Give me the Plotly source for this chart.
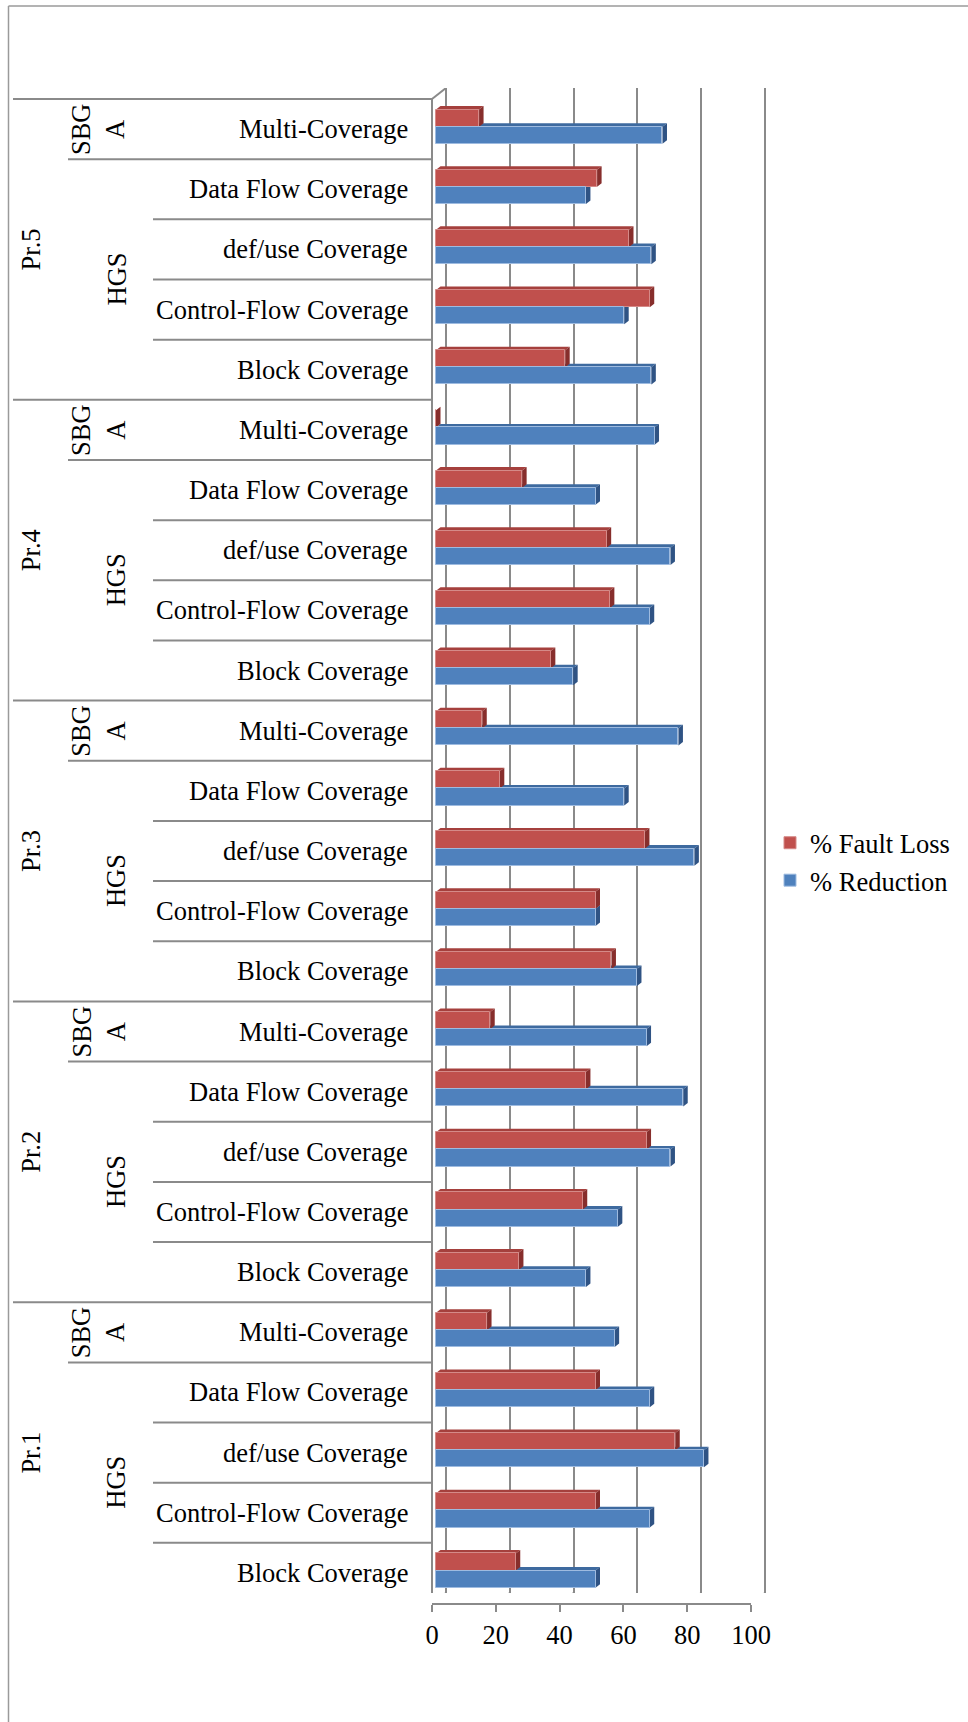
import plotly.graph_objects as go

# ---- data -------------------------------------------------------------
programs = ["Pr.1", "Pr.2", "Pr.3", "Pr.4", "Pr.5"]
techniques = ["Block Coverage", "Control-Flow Coverage", "def/use Coverage",
              "Data Flow Coverage", "Multi-Coverage"]
strategies = ["HGS", "HGS", "HGS", "HGS", "SBGA"]

# values per program, in the order of `techniques`
reduction_pr1 = [50, 67, 84, 67, 56]
reduction_pr2 = [47, 57, 73.5, 77.5, 66]
reduction_pr3 = [63, 50, 81, 59, 76]
reduction_pr4 = [43, 67, 73.5, 50, 68.5]
reduction_pr5 = [67.5, 59, 67.5, 47, 71]

fault_loss_pr1 = [25, 50, 75, 50, 16]
fault_loss_pr2 = [26, 46, 66, 47, 17]
fault_loss_pr3 = [55, 50, 65.5, 20, 14.5]
fault_loss_pr4 = [36, 54.5, 53.5, 27, 0]
fault_loss_pr5 = [40.5, 67, 60.5, 50.5, 13.5]

x_ticks = [0, 20, 40, 60, 80, 100]

reduction = reduction_pr1 + reduction_pr2 + reduction_pr3 + reduction_pr4 + reduction_pr5
fault_loss = fault_loss_pr1 + fault_loss_pr2 + fault_loss_pr3 + fault_loss_pr4 + fault_loss_pr5

# ---- layout constants (pixels) -----------------------------------------
W, H = 968, 1722
N = len(programs) * len(techniques)
X0 = 436.0          # bar zero
PXU = 3.19          # px per value unit
ROW = 60.16         # row height
ROW_TOP_C = 129.1   # centre of the top row
Y_TOP, Y_BOT = 88.0, 1593.0   # back wall extent
FLOOR_Y = 1604.0
FRONT_DX, BACK_DX = -4.0, 10.0
DEPTH_DX, DEPTH_DY = 4.5, 3.5
GRID = "#8a8a8a"
FONT = "Liberation Serif, Times New Roman, serif"

RED, RED_TOP, RED_SIDE, RED_EDGE = "#C0504D", "#A5403D", "#872E2C", "#D58A88"
BLUE, BLUE_TOP, BLUE_SIDE, BLUE_EDGE = "#4F81BD", "#3E6A9F", "#2F5384", "#9EBBE0"


def xv(px):
    return (px - X0) / PXU


def yv(py):
    return (N - 1) - (py - ROW_TOP_C) / ROW


def px_(px):
    return px / W


def py_(py):
    return 1 - py / H


ys = list(range(N))
BAR_W = 0.285
RED_OFF = 0.04
BLUE_OFF = RED_OFF - BAR_W

fig = go.Figure()

fig.add_trace(go.Bar(
    orientation="h", y=ys, x=fault_loss, width=BAR_W, offset=RED_OFF,
    name="% Fault Loss", legendgroup="a",
    marker=dict(color=RED, line=dict(color=RED_EDGE, width=1)),
))
fig.add_trace(go.Bar(
    orientation="h", y=ys, x=reduction, width=BAR_W, offset=BLUE_OFF,
    name="% Reduction", legendgroup="b",
    marker=dict(color=BLUE, line=dict(color=BLUE_EDGE, width=1)),
))
# carrier for the front value axis
fig.add_trace(go.Scatter(x=[50], y=[0], xaxis="x2", yaxis="y", mode="markers",
                         marker=dict(opacity=0), showlegend=False, hoverinfo="skip"))

shapes = []
dxu = DEPTH_DX / PXU
dyu = DEPTH_DY / ROW


def faces(vals, off, top_c, side_c):
    out = []
    for y, v in zip(ys, vals):
        yb = y + off
        yt = yb + BAR_W
        out.append(dict(type="path", xref="x", yref="y", layer="between",
                        path=f"M0,{yt} L{dxu},{yt+dyu} L{v+dxu},{yt+dyu} L{v},{yt} Z",
                        fillcolor=top_c, line=dict(width=0)))
        out.append(dict(type="path", xref="x", yref="y", layer="between",
                        path=f"M{v},{yb} L{v+dxu},{yb+dyu} L{v+dxu},{yt+dyu} L{v},{yt} Z",
                        fillcolor=side_c, line=dict(width=0)))
    return out


shapes += faces(reduction, BLUE_OFF, BLUE_TOP, BLUE_SIDE)
shapes += faces(fault_loss, RED_OFF, RED_TOP, RED_SIDE)

line = dict(color=GRID, width=2)
# category table rules
per = len(techniques)
for i in range(N + 1):
    yb = i - 0.5
    if i % per == 0:
        x_start = 13
    elif i % per == per - 1:
        x_start = 68
    else:
        x_start = 153
    shapes.append(dict(type="line", xref="paper", yref="y",
                       x0=px_(x_start), x1=px_(X0 + FRONT_DX), y0=yb, y1=yb, line=line))

# side wall front edge and top corner
shapes.append(dict(type="line", xref="x", yref="y", x0=xv(X0 + FRONT_DX), x1=xv(X0 + FRONT_DX),
                   y0=N - 0.5, y1=-0.5, line=line))
shapes.append(dict(type="line", xref="x", yref="y", x0=xv(X0 + FRONT_DX), x1=xv(X0 + BACK_DX),
                   y0=N - 0.5, y1=yv(Y_TOP), line=line))
# floor diagonals from front ticks to back grid lines
for t in x_ticks:
    shapes.append(dict(type="line", xref="x", yref="y",
                       x0=t + FRONT_DX / PXU, x1=t + BACK_DX / PXU,
                       y0=yv(FLOOR_Y), y1=yv(Y_BOT), line=line))

# outer frame
frame = dict(color="#9a9a9a", width=1.5)
shapes.append(dict(type="line", xref="paper", yref="paper", x0=px_(8.5), x1=1,
                   y0=py_(6), y1=py_(6), line=frame))
shapes.append(dict(type="line", xref="paper", yref="paper", x0=px_(8.5), x1=px_(8.5),
                   y0=py_(6), y1=0, line=frame))

annotations = []
font = dict(family=FONT, size=26.5, color="black")
for p, prog in enumerate(programs):
    base = p * per
    for t, tech in enumerate(techniques):
        annotations.append(dict(text=tech, xref="paper", yref="y", x=px_(410), y=base + t,
                                xanchor="right", yanchor="middle", showarrow=False, font=font))
    annotations.append(dict(text=prog, xref="paper", yref="y", x=px_(31), y=base + (per - 1) / 2,
                            xanchor="center", yanchor="middle",
                            textangle=-90, showarrow=False, font=font))
    hgs_rows = [t for t, s in enumerate(strategies) if s == "HGS"]
    annotations.append(dict(text="HGS", xref="paper", yref="y", x=px_(116),
                            y=base + sum(hgs_rows) / len(hgs_rows),
                            xanchor="center", yanchor="middle",
                            textangle=-90, showarrow=False, font=font))
    annotations.append(dict(text="SBG<br>A", xref="paper", yref="y", x=px_(98),
                            y=base + strategies.index("SBGA"),
                            xanchor="center", yanchor="middle",
                            textangle=-90, showarrow=False, font=font))

fig.update_layout(
    width=W, height=H, autosize=False,
    margin=dict(l=0, r=0, t=0, b=0, autoexpand=False),
    paper_bgcolor="white", plot_bgcolor="rgba(0,0,0,0)",
    barmode="overlay", bargap=0,
    font=font,
    showlegend=True,
    legend=dict(x=px_(770), y=py_(819), xanchor="left", yanchor="top",
                font=font, tracegroupgap=20, itemwidth=30,
                bgcolor="rgba(0,0,0,0)", traceorder="normal"),
    xaxis=dict(domain=[0, 1], range=[xv(0), xv(W)],
               tickvals=[t + BACK_DX / PXU for t in x_ticks],
               showticklabels=False, ticks="", showgrid=True,
               gridcolor=GRID, gridwidth=2, zeroline=False, showline=False,
               fixedrange=True),
    yaxis=dict(domain=[py_(Y_BOT), py_(Y_TOP)], range=[yv(Y_BOT), yv(Y_TOP)],
               showticklabels=False, showgrid=False, zeroline=False, showline=False,
               ticks="", fixedrange=True),
    xaxis2=dict(domain=[px_(X0 + FRONT_DX), px_(X0 + FRONT_DX + 100 * PXU)], range=[0, 100],
                anchor="free", position=py_(FLOOR_Y), side="bottom",
                tickvals=x_ticks, ticktext=[str(t) for t in x_ticks],
                ticks="outside", ticklen=7, tickwidth=2, tickcolor=GRID,
                showline=True, linecolor=GRID, linewidth=2,
                showgrid=False, zeroline=False, tickfont=font, fixedrange=True),
    shapes=shapes,
    annotations=annotations,
)

fig.write_html("out.html")
